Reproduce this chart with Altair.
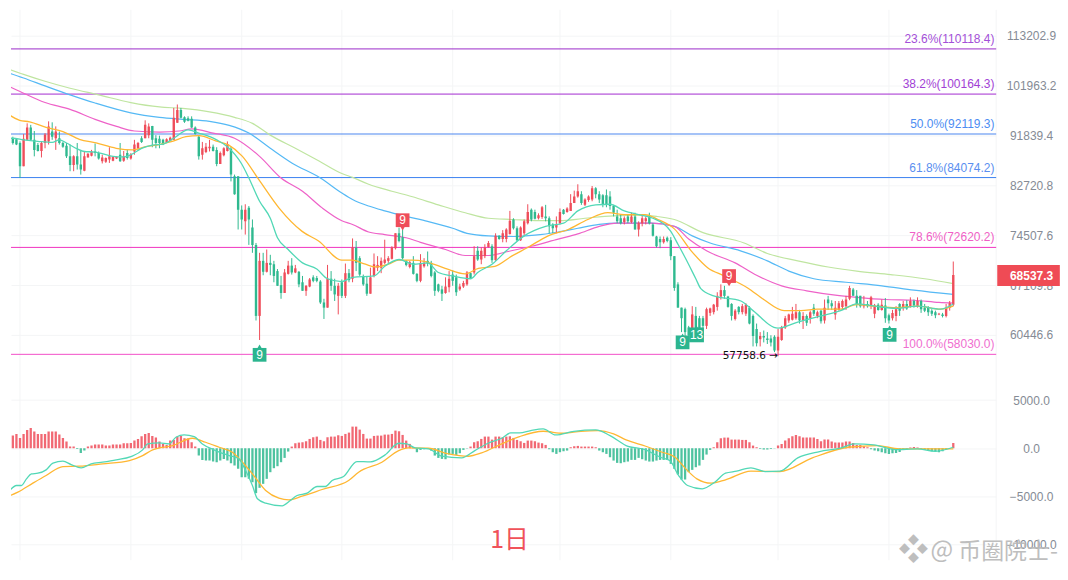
import altair as alt
import pandas as pd

# ---- daily candles, (open, close, high, low) in hundreds of USD, first candle is index 2
candles_a = [
(913,904,916,901),(911,901,913,900),(904,861,907,840),(861,912,921,861),(910,934,942,908),(934,910,939,908),
(910,891,927,879),(900,889,904,888),(889,904,907,877),(904,920,923,894),(907,936,946,901),(926,916,944,910),
(913,926,936,891),(913,904,926,901),(904,897,906,895),(899,879,904,876),(879,863,901,852),(863,879,881,852),
(879,864,904,855),(864,855,891,846),(853,879,889,852),(877,884,885,877),(880,888,891,879),(888,885,903,879),
(885,875,888,873),(870,877,882,866),(869,876,877,867),(873,879,896,867),(871,878,879,870),(875,878,879,874),
(882,870,904,869),(871,879,889,869),(885,876,891,873),(875,882,885,873),(888,901,910,882),(894,904,906,891),
(913,906,917,904),(913,939,948,913),(919,936,942,913),(937,910,937,896),(913,904,919,894),(912,904,918,894),
(910,901,912,900),(905,911,913,904),(908,914,916,907),(910,953,973,910),(943,969,980,943),(969,953,973,952),
(954,945,956,943),(952,947,956,946),(951,934,956,933),(934,921,936,920),(916,879,918,873),(882,894,906,873),
(887,897,904,885),(894,897,910,888),(897,889,901,888),(891,865,896,861),(865,885,888,865),(881,894,896,879),
(889,902,907,888),(893,846,897,834),(843,812,846,811),(843,786,843,754),(786,770,793,754),(767,786,795,746),
(789,770,792,730),(757,730,770,718),(730,629,733,623)]
candles_b = [
(629,706,718,598),(706,690,718,685),(690,703,723,689),(703,700,715,685),(701,684,706,675),(691,670,694,670),
(671,660,684,652),(660,689,694,660),(687,699,706,686),(699,689,710,686),(689,695,700,688),(690,672,691,668),
(675,663,684,663),(663,670,671,656),(669,679,681,668),(682,677,685,675),(681,677,684,675),(676,647,678,645),
(647,640,652,625),(640,680,700,640),(680,670,691,663),(670,658,680,649),(656,670,674,631),(675,656,679,653),
(656,688,702,653),(688,678,694,675),(680,726,740,675),(726,703,736,691),(710,686,713,684),(684,672,686,670),
(673,659,684,656),(659,682,696,659),(684,701,717,682),(696,700,713,691),(696,706,711,688),(703,708,738,701),
(706,710,713,703),(709,726,728,708),(725,748,748,723),(748,736,757,734),(742,710,754,708),(706,700,707,698),
(697,704,706,695),(703,687,713,686),(687,677,688,675),(677,703,716,675),(698,703,710,696),(706,702,720,698),
(703,684,706,682),(689,663,691,656),(672,663,673,661),(665,659,670,649),(660,669,682,659),(668,680,691,661),
(686,677,692,670),(682,661,686,656),(665,669,673,663),(669,674,677,667),(672,689,691,670),(688,681,689,680),
(689,713,728,686),(721,708,728,706),(708,721,726,701),(713,726,731,710),(727,733,736,726),(728,707,731,703),
(707,744,748,706),(744,739,745,738),(739,748,753,734),(739,754,756,734)]
candles_c = [
(747,768,784,746),(770,756,772,754),(756,737,759,736),(737,757,759,736),(748,767,770,744),(764,782,795,762),
(786,770,788,767),(782,771,786,770),(772,777,780,770),(774,790,792,771),(775,772,794,767),(772,759,775,748),
(762,756,764,748),(757,762,775,748),(764,782,788,762),(786,779,787,778),(782,788,790,781),(784,797,812,784),
(797,808,818,797),(808,817,829,806),(812,797,817,794),(794,803,805,792),(802,808,810,799),(803,822,826,800),
(822,812,824,805),(812,803,817,797),(810,794,812,790),(810,794,820,790),(808,792,817,786),(792,781,794,775),
(775,767,786,764),(772,764,778,762),(766,772,775,762),(775,767,778,764),(766,775,781,764),(775,754,781,754),
(754,764,767,743),(764,772,778,759),(767,772,775,762),(775,764,781,762),(762,744,764,743),(743,728,744,726),
(739,734,743,725),(734,739,743,732),(741,736,743,734),(737,713,742,707),(713,667,713,663),(672,640,675,640),
(640,626,640,608),(638,608,640,602),(614,604,616,597),(612,631,642,602),(629,612,641,610),(626,612,629,610),
(626,616,629,606),(616,638,640,612),(633,639,640,629),(634,644,645,631),(641,656,661,636),(655,664,672,651)]
candles_d = [
(664,656,670,652),(655,641,656,640),(645,629,646,623),(625,636,638,623),(641,634,642,631),(634,642,645,631),
(632,644,646,629),(640,619,642,618),(629,603,631,590),(612,594,619,590),(599,603,608,590),(603,601,610,595),
(600,598,608,593),(600,595,604,590),(602,585,604,583),(585,602,612,578),(598,614,616,597),(614,626,629,612),
(623,631,632,620),(624,632,641,623),(626,634,645,624),(634,623,637,619),(623,629,634,612),(629,620,631,616),
(626,634,636,619),(640,632,645,629),(629,634,636,626),(636,622,637,619),(623,640,651,619),(651,646,656,637),
(646,642,650,637),(631,640,649,624),(637,646,649,636),(641,649,651,637),(642,651,656,637),(652,667,670,650),
(665,656,667,656),(656,645,664,640),(656,642,656,640),(642,645,656,639),(645,642,649,640),(643,654,656,638),
(632,643,645,626),(644,637,646,636),(637,644,651,636),(643,626,653,620),(630,623,632,619),(626,633,637,623),
(629,638,642,622),(645,636,646,629),(640,645,649,636),(645,639,650,637),(642,649,654,640),(649,643,651,640),
(642,649,654,640),(649,638,651,633),(640,636,645,634),(640,634,642,629),(636,632,638,629),(634,630,636,626),
(631,632,633,630),(631,629,633,627),(629,640,645,627),(640,646,649,636),(644,685.37,705,642)]

# ---- moving averages, (candle index, price in hundreds)
ma_teal = [(-1,913),(2,913),(5,910),(9,907),(13,905),(15,910),(17,904),(20,893),(22,888),(25,887),(30,879),(33,878),(35,882),(38,894),(41,900),(44,902),(47,913),(51,929),(54,923),(59,910),(62,897),(66,865),(68,840),(71,800),(74,772),(76,741),(79,723),(83,703),(87,694),(90,680),(94,676),(97,682),(103,684),(106,698),(110,708),(114,701),(118,703),(121,689),(125,684),(130,680),(132,689),(136,701),(140,721),(145,744),(151,759),(156,764),(160,784),(165,794),(169,795),(173,784),(177,778),(181,772),(186,751),(188,731),(190,711),(193,680),(194.4,666),(198,656),(205.6,649),(209,636),(216,613),(221.5,621),(228,629),(233.5,636),(238,645),(243,642),(249,639),(255,642),(261.4,638),(265,645)]
ma_orange = [(-1,969),(3.9,948),(6.7,945),(11.3,934),(16,926),(20.6,911),(25.3,904),(30.9,894),(35.5,891),(39.2,897),(42.9,901),(46.6,907),(50.4,916),(54.1,918),(58.7,908),(62.4,900),(66.2,879),(70.8,837),(76.4,789),(82.9,751),(87.5,736),(94,707),(96.8,707),(100.6,701),(103.4,697),(107,701),(109.9,707),(113.6,707),(117.3,705),(122.9,695),(128.5,687),(132.2,695),(136.8,698),(141.5,713),(146,726),(151.7,744),(157.3,754),(162.8,770),(168.4,781),(173,778),(178.8,778),(182.4,770),(187,755),(191.7,721),(196.3,696),(201,684),(207.5,667),(212,651),(217.7,636),(222.4,636),(227,638),(233.5,638),(238,644),(243,642),(249,640),(255,642),(261.4,638),(265,642)]
ma_pink = [(-1,1025),(4,1007),(11,984),(18,970),(25,950),(31,936),(36,927),(43,925),(48.5,927),(52,931),(58,923),(64,913),(71,879),(77,840),(83,817),(88.5,789),(94,768),(97,762),(101.5,750),(106,746),(112,741),(116,734),(123,723),(128.5,714),(135,714),(140.5,720),(147,728),(154.5,739),(160,747),(166,759),(171,764),(180.5,764),(187,759),(191,739),(196,721),(204,703),(210,685),(217,670),(224,663),(232,657),(238,654),(246,651),(254,650),(261,647),(265,646)]
ma_blue = [(-1,1052),(5,1036),(11,1019),(18,1000),(25,983),(35,963),(43,954),(49.5,950),(57,946),(62.5,938),(68,923),(74,894),(80,867),(88,840),(94,814),(97,803),(101.5,792),(106,784),(112,775),(118,767),(125,756),(129,748),(135,744),(142,743),(148,745),(154.5,750),(160,756),(166,762),(171,764),(180.5,764),(187,759),(192,744),(197,733),(205.5,721),(213,706),(219,691),(226,680),(235,675),(245,670),(254,664),(265,658)]
ma_lime = [(-1,1061),(5,1044),(11,1029),(18,1014),(26,1000),(35,984),(43,975),(49.5,972),(57,965),(64,954),(69,942),(74,919),(81,894),(87.5,871),(94,848),(97,841),(101.5,829),(108,817),(113.5,808),(121,794),(128.5,781),(135,772),(141.5,770),(149,768),(155,768),(162,772),(170,776),(177,777),(182,775),(187,770),(195,749),(206.5,733),(213,717),(221.5,706),(230,697),(238,691),(247.5,686),(257,680),(265,673)]

# ---- MACD histogram, one value per candle starting at index 0
macd_hist = [621,1070,1311,1484,1070,1484,1898,2105,1725,1484,1484,1484,1725,1725,1725,1415,1070,690,173,173,-69,-483,-242,173,276,380,380,380,276,276,380,380,380,518,518,552,794,966,1242,1484,1587,1277,1104,690,449,345,794,863,1208,1277,1035,1001,621,173,
-759,-1208,-1277,-1277,-1380,-1449,-1277,-1104,-1277,-1553,-1794,-2139,-3002,-3002,-3174,-3519,-4658,-4106,-3692,-3174,-2484,-2070,-1863,-1449,-1001,-345,173,518,587,621,725,966,1139,1208,863,725,1139,1208,1208,1346,1277,1484,1622,2243,2243,1932,1484,1001,1001,1277,1311,1311,1415,1415,1484,1829,1760,1380,794,449,104,-414,-173,-104,-35,-242,-759,-1001,-1104,-1139,-656,-587,-690,-518,-173,-35,173,621,725,966,1208,1208,897,1208,1208,
1139,1208,1242,1070,863,725,552,794,794,725,587,518,345,-104,-414,-587,-414,-311,-242,104,207,242,173,173,173,173,104,-242,-414,-587,-932,-1277,-1518,-1553,-1449,-1380,-1208,-1208,-1001,-1139,-1277,-1380,-1380,-1277,-1208,-1208,-1208,-1622,-2139,-2726,-3243,-3243,-2484,-2243,-1967,-1794,-1208,-656,-173,
104,621,1035,1104,1104,897,897,897,863,863,621,276,104,-69,-138,-138,-69,-35,276,449,794,1035,1242,1380,1242,1104,1104,1104,1104,966,725,897,897,690,587,587,587,690,690,552,345,345,207,104,-104,-242,-311,-414,-518,-587,-518,-483,-380,-173,-104,69,138,69,-69,-173,-242,-311,-345,-414,-311,-138,35,552]
macd_dif = [(-0.7,-5175),(1.1,-4382),(3,-3864),(4.4,-3864),(5.8,-3174),(7.2,-2657),(9,-2588),(11.3,-2243),(13.2,-1553),(16,-1346),(18.3,-1691),(21.1,-2036),(23.9,-1622),(27.1,-1449),(30.9,-1208),(35,-863),(38.3,-173),(39.7,449),(43,552),(45.7,449),(47.6,1139),(49.9,1380),(52.7,1208),(55,449),(58.7,-242),(62.5,-759),(65.2,-1104),(67.1,-2312),(69,-3864),(70.4,-5244),(72.7,-5693),(77.3,-5969),(79.6,-5417),(81.5,-4899),(84.3,-4658),(87.1,-3968),(89.4,-3968),(91.3,-3347),(94.5,-2933),(98.2,-1380),(102,-1415),(106.1,-690),(109.9,518),(112.2,449),(114.5,35),(118.2,-69),(122,-828),(127.5,-1001),(131.2,-242),(134.9,518),(138.7,1035),(141.2,1587),(143.7,1587),(146.8,1829),(150.3,2001),(153.8,1380),(158.9,1760),(165,1898),(169,1311),(173.5,276),(179,-173),(183.1,-932),(185.7,-1277),(188.2,-2829),(190.7,-3864),(194.8,-4209),(198.3,-3519),(201.3,-2588),(204.4,-2381),(208.4,-2036),(212.4,-2415),(216.5,-2381),(221.5,-1001),(227.6,-345),(233.7,35),(237.2,449),(242.8,345),(248.8,-138),(254.9,-69),(260,-311),(265,104)]
macd_dea = [(-0.7,-5175),(3.4,-4554),(7.6,-3623),(11.3,-2829),(16,-1898),(20.6,-1863),(27.1,-1622),(34.6,-1277),(38.3,-759),(41.1,-173),(46.7,276),(52.2,1035),(55.9,621),(59.7,104),(63.4,-414),(66.2,-1449),(69,-2657),(72.7,-4382),(76.4,-5175),(79.2,-5348),(82.9,-4968),(88.5,-4278),(95.9,-3347),(98.7,-2484),(105.2,-1449),(109.9,-242),(112.6,35),(118.2,0),(123.8,-587),(129.4,-828),(133.1,-483),(138.7,449),(143.7,1208),(150.3,1760),(155.9,1553),(160.9,1760),(165.5,1829),(170,1484),(173.5,863),(179,207),(183.6,-414),(187.2,-932),(190.2,-2139),(193.3,-3174),(197.3,-3622),(201.3,-3278),(208.4,-2381),(216.5,-2415),(225.6,-1001),(235.7,104),(243.8,276),(249.9,-69),(258,-69),(265,-69)]

# ---- annotations
fib_labels = ["23.6%(110118.4)", "38.2%(100164.3)", "50.0%(92119.3)", "61.8%(84074.2)", "78.6%(72620.2)", "100.0%(58030.0)"]
fib_prices = [110118.4, 100164.3, 92119.3, 84074.2, 72620.2, 58030.0]
fib_lines = ["#9b2bc9", "#a32bd0", "#4a86ef", "#3b82f0", "#f033c0", "#f24fc8"]
fib_text = ["#a34fd8", "#a23fd6", "#4d8df2", "#5b8ff0", "#f05fc6", "#f06fd0"]
price_ticks = [113202.9, 101963.2, 91839.4, 82720.8, 74507.6, 67109.8, 60446.6]
macd_ticks = [5000, 0, -5000, -10000]
month_starts = [4, 35, 66, 94, 125, 155, 186, 216, 247, 277]
tag_i = [71, 111, 189.3, 193.2, 202.3, 247.2]
tag_price = [57970, 76880, 59506, 60447, 68384, 60447]
tag_text = ["9", "9", "9", "13", "9", "9"]
tag_color = ["#2bb58f", "#ef4d5a", "#2bb58f", "#2bb58f", "#ef4d5a", "#2bb58f"]
tag_area = [190, 190, 190, 220, 190, 190]
tip_i = [71, 111, 189.3, 193.2, 202.3, 247.2]
tip_price = [58950, 75607, 60320, 61338, 67255, 61338]
tip_shape = ["triangle-up", "triangle-down", "triangle-up", "triangle-up", "triangle-down", "triangle-up"]
last_price = 68537.3
low_label = "57758.6 →"

RED, GREEN = "#ef4d5a", "#2fb98f"
GRID = "#f4f5f6"
LABEL = "#858b95"
SANS = "Liberation Sans"

rows = candles_a + candles_b + candles_c + candles_d
assert len(rows) == 264, len(rows)
cd = pd.DataFrame(rows, columns=["o", "c", "h", "l"]) * 100
cd["i"] = range(2, 2 + len(cd))
cd["dir"] = ["up" if c >= o else "down" for o, c in zip(cd.o, cd.c)]

xs = alt.Scale(domain=[1.478, 277.0], nice=False, zero=False)
X = alt.X("i:Q", scale=xs, axis=None)
ps = alt.Scale(type="log", domain=[52655, 119533], range=[392, 0], nice=False)
ms = alt.Scale(domain=[-10000, 5000], range=[536.4, 391.35], nice=False, zero=False)
dirc = alt.Color("dir:N", scale=alt.Scale(domain=["up", "down"], range=[RED, GREEN]), legend=None)


def Yp(f):
    return alt.Y(f, type="quantitative", scale=ps, axis=None)


def Ym(f):
    return alt.Y(f, type="quantitative", scale=ms, axis=None)


layers = []
# month gridlines
layers.append(alt.Chart(pd.DataFrame({"i": month_starts})).mark_rule(color=GRID, strokeWidth=1).encode(x=X))
# price axis with gridlines
layers.append(alt.Chart(pd.DataFrame({"p": price_ticks})).mark_point(opacity=0).encode(
    y=alt.Y("p:Q", scale=ps, axis=alt.Axis(orient="right", values=price_ticks, format=".1f", grid=True, gridColor=GRID,
                                           ticks=False, domain=False, title=None, labelPadding=35, labelAlign="center", labelColor=LABEL,
                                           labelFont=SANS, labelFontSize=12, labelOverlap=False)),
    x=alt.value(0)))
# MACD axis with gridlines
layers.append(alt.Chart(pd.DataFrame({"m": macd_ticks})).mark_point(opacity=0).encode(
    y=alt.Y("m:Q", scale=ms, axis=alt.Axis(orient="right", values=macd_ticks, format=".1f", grid=True, gridColor=GRID,
                                           ticks=False, domain=False, title=None, labelPadding=35, labelAlign="center", labelColor=LABEL,
                                           labelFont=SANS, labelFontSize=12, labelOverlap=False)),
    x=alt.value(0)))
# fib lines and labels
fib = pd.DataFrame({"p": fib_prices, "t": fib_labels, "lc": fib_lines, "tc": fib_text, "i": 1.478, "i2": 277.0, "it": 276.5})
layers.append(alt.Chart(fib).mark_rule(strokeWidth=1).encode(x=X, x2="i2:Q", y=Yp("p"), color=alt.Color("lc:N", scale=None)))
layers.append(alt.Chart(fib).mark_text(align="right", baseline="bottom", dy=-3, font=SANS, fontSize=12).encode(
    x=alt.X("it:Q", scale=xs, axis=None), y=Yp("p"), text="t:N", color=alt.Color("tc:N", scale=None)))
# MAs under candles
for data, col, w in [(ma_lime, "#bfe5a0", 1.2), (ma_blue, "#55b9f5", 1.2), (ma_pink, "#ee62c8", 1.2)]:
    d = pd.DataFrame(data, columns=["i", "v"])
    d["v"] = d["v"] * 100
    layers.append(alt.Chart(d).mark_line(color=col, strokeWidth=w, clip=True, interpolate="monotone").encode(x=X, y=Yp("v")))
# candles
layers.append(alt.Chart(cd).mark_rule(strokeWidth=1, clip=True).encode(x=X, y=Yp("h"), y2="l:Q", color=dirc))
layers.append(alt.Chart(cd).mark_rule(strokeWidth=2.4, clip=True).encode(x=X, y=Yp("o"), y2="c:Q", color=dirc))
for data, col, w in [(ma_orange, "#ffb732", 1.3), (ma_teal, "#52d8b6", 1.3)]:
    d = pd.DataFrame(data, columns=["i", "v"])
    d["v"] = d["v"] * 100
    layers.append(alt.Chart(d).mark_line(color=col, strokeWidth=w, clip=True, interpolate="monotone").encode(x=X, y=Yp("v")))
# MACD
hist = pd.DataFrame({"i": range(len(macd_hist)), "h": macd_hist, "z": 0})
hist["dir"] = ["up" if v >= 0 else "down" for v in macd_hist]
layers.append(alt.Chart(hist).mark_rule(strokeWidth=2.3, clip=True, opacity=0.85).encode(x=X, y=Ym("h"), y2="z:Q", color=dirc))
for data, col in [(macd_dea, "#ffb732"), (macd_dif, "#52d8b6")]:
    d = pd.DataFrame(data, columns=["i", "v"])
    layers.append(alt.Chart(d).mark_line(color=col, strokeWidth=1.3, clip=True, interpolate="monotone").encode(x=X, y=Ym("v")))
# TD sequence tags
tg = pd.DataFrame({"i": tag_i, "p": tag_price, "t": tag_text, "c": tag_color, "s": tag_area})
layers.append(alt.Chart(tg).mark_point(shape="square", filled=True, opacity=1).encode(
    x=X, y=Yp("p"), color=alt.Color("c:N", scale=None), size=alt.Size("s:Q", scale=None)))
tp = pd.DataFrame({"i": tip_i, "p": tip_price, "sh": tip_shape, "c": tag_color})
layers.append(alt.Chart(tp).mark_point(filled=True, opacity=1, size=30).encode(
    x=X, y=Yp("p"), color=alt.Color("c:N", scale=None), shape=alt.Shape("sh:N", scale=None)))
layers.append(alt.Chart(tg).mark_text(color="white", font=SANS, fontSize=12, baseline="middle", align="center").encode(
    x=X, y=Yp("p"), text="t:N"))
# lowest price note
layers.append(alt.Chart(pd.DataFrame({"i": [216.0], "p": [57850], "t": [low_label]})).mark_text(
    color="#111111", font="DejaVu Sans", fontSize=10.5, align="right", baseline="middle").encode(x=X, y=Yp("p"), text="t:N"))
# last price tag
tagbox = pd.DataFrame({"i": [277.3], "i2": [294.8], "a": [69980], "b": [66970], "it": [286.9], "p": [68400], "t": [f"{last_price:.1f}"]})
layers.append(alt.Chart(tagbox).mark_rect(color="#ef4b55").encode(x=X, x2="i2:Q", y=Yp("a"), y2="b:Q"))
layers.append(alt.Chart(tagbox).mark_text(color="white", font=SANS, fontSize=12, fontWeight="bold", baseline="middle").encode(
    x=alt.X("it:Q", scale=xs, axis=None), y=Yp("p"), text="t:N"))
# period caption and watermark
cap = pd.DataFrame({"i": [140.9], "v": [-9545], "t": ["1日"]})
layers.append(alt.Chart(cap).mark_text(color="#f0525a", font="Noto Sans CJK SC", fontSize=25, baseline="middle", align="center").encode(
    x=X, y=Ym("v"), text="t:N"))
wm = pd.DataFrame({"i": [249.7, 258.6, 266.4], "v": [-10700, -10700, -10800], "t": ["❖", "@", "币圈院士-"], "s": [30, 24, 23]})
layers.append(alt.Chart(wm).mark_text(color="#b8b8b8", font="Noto Sans CJK SC", baseline="middle", align="left", opacity=0.9).encode(
    x=X, y=Ym("v"), text="t:N", size=alt.Size("s:Q", scale=None)))

chart = alt.layer(*layers).resolve_scale(y="independent").properties(
    width=988, height=552, padding=0, background="white"
).configure_view(stroke=None)

chart.save("out.html", embed_options={"renderer": "svg", "actions": False})
